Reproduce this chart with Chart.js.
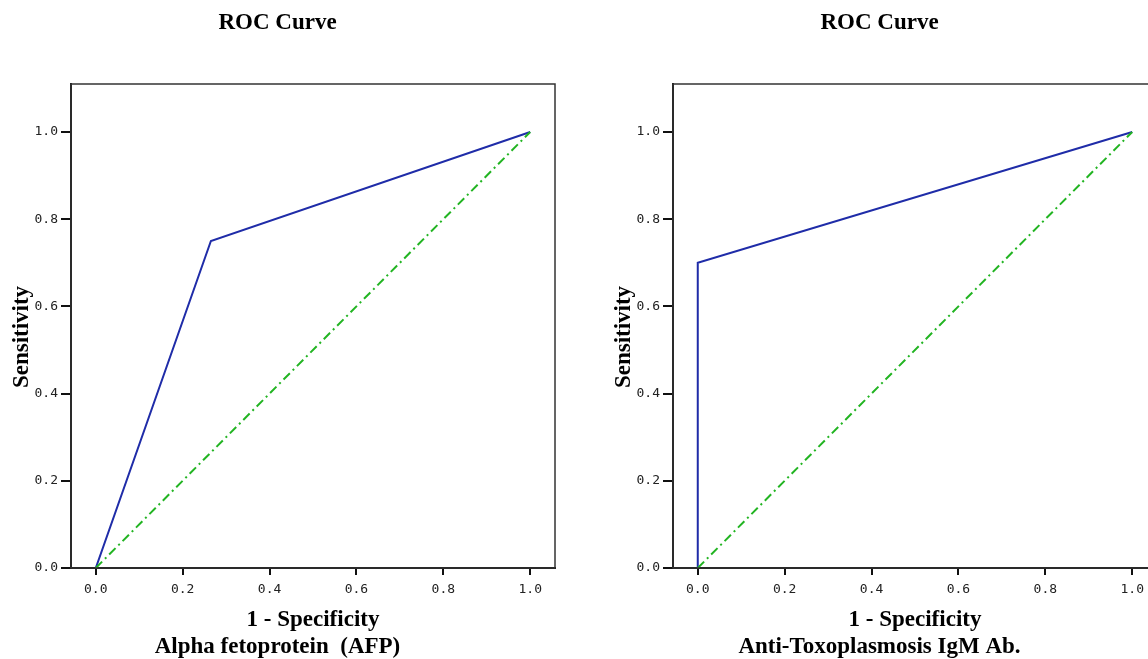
<!DOCTYPE html>
<html>
<head>
<meta charset="utf-8">
<script src="https://cdn.jsdelivr.net/npm/chart.js@4.4.0/dist/chart.umd.min.js"></script>
<style>
  body { margin: 0; background: #fff; overflow: hidden; width: 1148px; height: 659px; position: relative; }
  canvas { position: absolute; top: 0; }
</style>
</head>
<body>
<canvas id="afpChart" width="602" height="659" style="left:0"></canvas>
<canvas id="toxoChart" width="602" height="659" style="left:602px"></canvas>
<script>
// tick values for both axes
const xTicks = [0, 0.2, 0.4, 0.6, 0.8, 1.0]
const yTicks = [0, 0.2, 0.4, 0.6, 0.8, 1.0]

// ROC points (1 - specificity, sensitivity)
const afpFpr = [0, 0.265, 1]
const afpTpr = [0, 0.75, 1]
const toxoFpr = [0, 0, 1]
const toxoTpr = [0, 0.7, 1]

// reference diagonal
const refX = [0, 1]
const refY = [0, 1]

const titleText = 'ROC Curve'
const xTitle = '1 - Specificity'
const yTitle = 'Sensitivity'

const serif = 'Liberation Serif'
const mono = 'DejaVu Sans Mono'

const toPoints = (xs, ys) => xs.map((x, i) => ({ x: x, y: ys[i] }))

// box around the plot area + the y title (sits a bit below the axis middle in the original)
const frame = {
    id: 'frame',
    afterDraw(chart) {
        const a = chart.chartArea
        const c = chart.ctx
        c.save()
        c.strokeStyle = '#333'
        c.lineWidth = 1.5
        c.strokeRect(a.left, a.top, a.right - a.left, a.bottom - a.top)

        c.translate(22, (a.top + a.bottom) / 2 + 11)
        c.rotate(-Math.PI / 2)
        c.fillStyle = '#000'
        c.font = 'bold 23px "' + serif + '"'
        c.textAlign = 'center'
        c.textBaseline = 'middle'
        c.fillText(yTitle, 0, 0)
        c.restore()
    }
}

function makeChart(id, fpr, tpr, subtitle) {
    return new Chart(document.getElementById(id), {
        type: 'line',
        data: {
            datasets: [
                {
                    label: 'Reference Line',
                    data: toPoints(refX, refY),
                    borderColor: '#22b422',
                    borderWidth: 2,
                    borderDash: [9, 4, 2, 4],
                    pointRadius: 0,
                    tension: 0,
                },
                {
                    label: 'Source of the Curve',
                    data: toPoints(fpr, tpr),
                    borderColor: '#1f2ca8',
                    borderWidth: 2,
                    pointRadius: 0,
                    tension: 0,
                },
            ],
        },
        options: {
            responsive: false,
            animation: false,
            layout: { padding: { left: 0, right: 47, top: 0, bottom: 0 } },
            plugins: {
                legend: { display: false },
                tooltip: { enabled: false },
                title: {
                    display: true,
                    text: titleText,
                    color: '#000',
                    font: { family: serif, size: 23, weight: 'bold', lineHeight: 1 },
                    padding: { top: 11.5, bottom: 49.5 },
                },
                subtitle: {
                    display: true,
                    position: 'bottom',
                    text: subtitle,
                    color: '#000',
                    font: { family: serif, size: 23, weight: 'bold', lineHeight: 1 },
                    padding: { top: 0, bottom: 0 },
                },
            },
            scales: {
                x: {
                    type: 'linear',
                    min: -0.057,
                    max: 1.057,
                    afterBuildTicks: s => { s.ticks = xTicks.map(v => ({ value: v })) },
                    afterFit: s => { s.height = 68 },
                    grid: { drawOnChartArea: false, color: '#111', lineWidth: 2, tickLength: 7 },
                    border: { color: '#111', width: 2 },
                    ticks: {
                        color: '#222',
                        padding: 7,
                        maxRotation: 0,
                        font: { family: mono, size: 13 },
                        callback: v => v.toFixed(1),
                    },
                    title: {
                        display: true,
                        text: xTitle,
                        color: '#000',
                        font: { family: serif, size: 23, weight: 'bold', lineHeight: 1 },
                        padding: { top: 0, bottom: 4.5 },
                    },
                },
                y: {
                    type: 'linear',
                    min: 0,
                    max: 1.11,
                    afterBuildTicks: s => { s.ticks = yTicks.map(v => ({ value: v })) },
                    afterFit: s => { s.width = 71 },
                    grid: { drawOnChartArea: false, color: '#111', lineWidth: 2, tickLength: 10 },
                    border: { color: '#111', width: 2 },
                    ticks: {
                        color: '#222',
                        padding: 3,
                        font: { family: mono, size: 13 },
                        callback: v => v.toFixed(1),
                    },
                    title: { display: false },
                },
            },
        },
        plugins: [frame],
    })
}

makeChart('afpChart', afpFpr, afpTpr, 'Alpha fetoprotein  (AFP)')
makeChart('toxoChart', toxoFpr, toxoTpr, 'Anti-Toxoplasmosis IgM Ab.')
</script>
</body>
</html>
